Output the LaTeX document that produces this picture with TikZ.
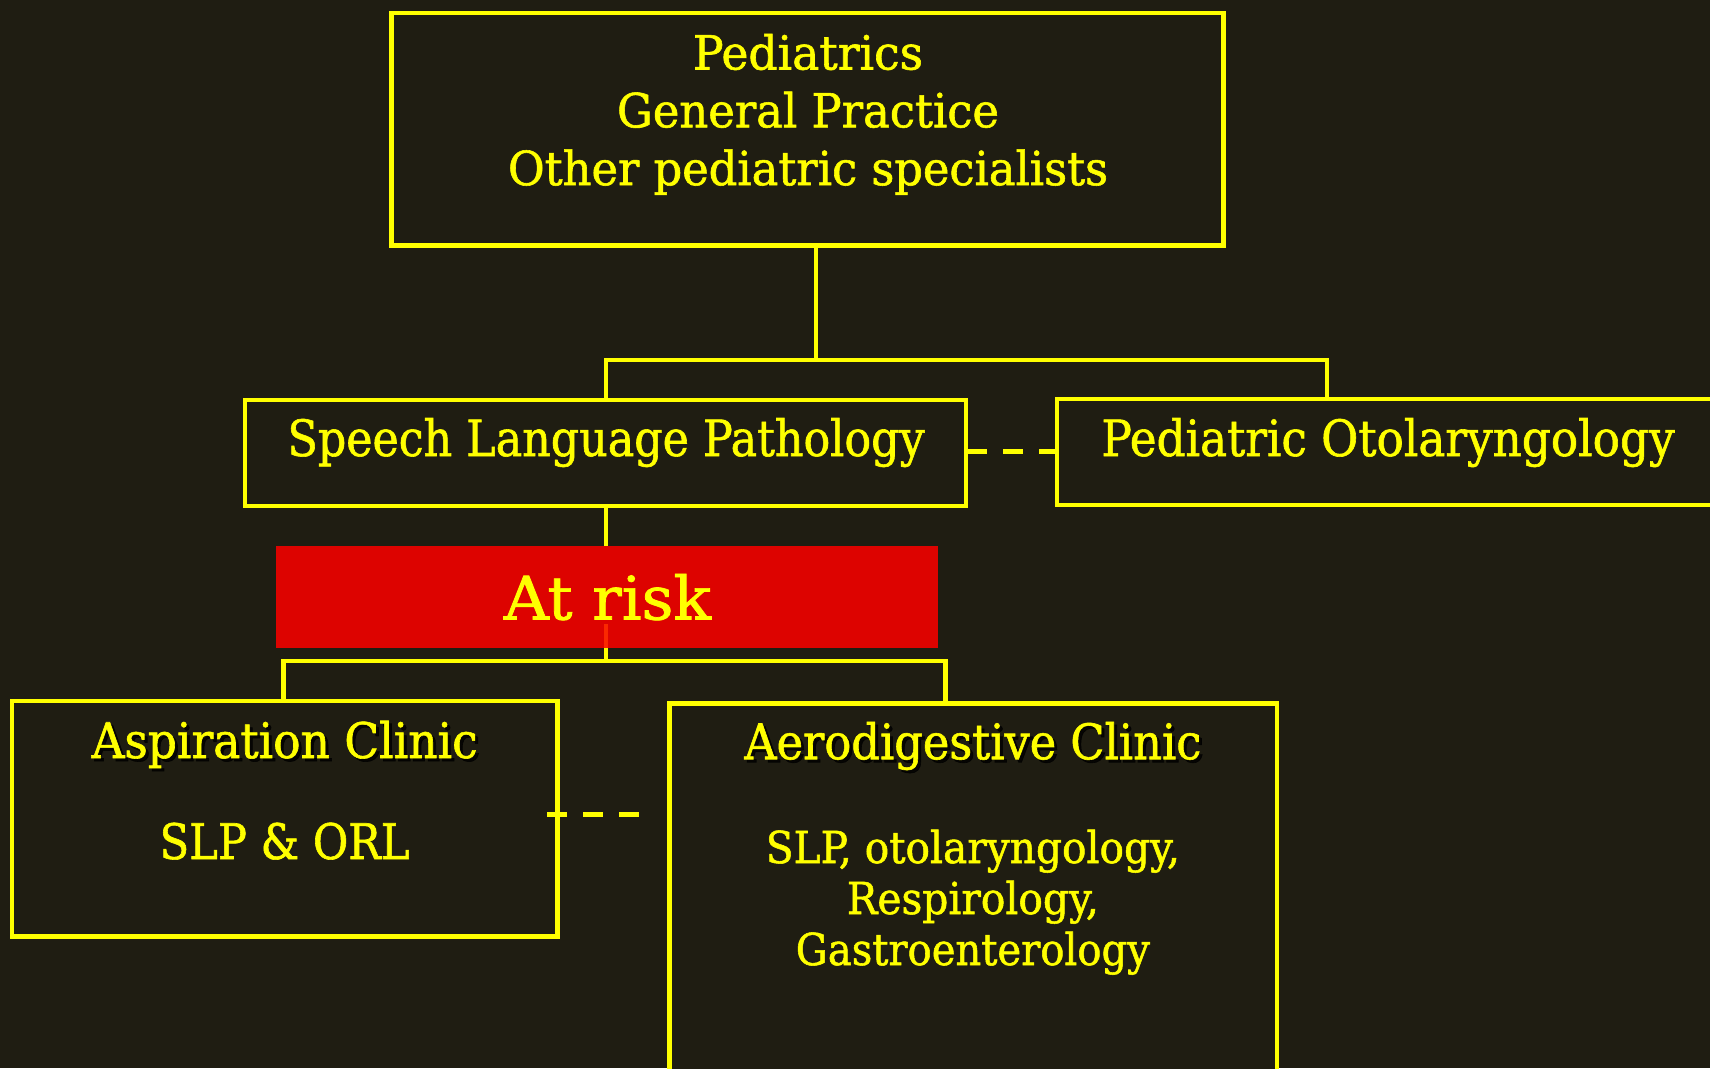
\documentclass[tikz,border=0pt]{standalone}
\usepackage{fontspec}
\usepackage{graphicx}
\setmainfont{DejaVu Serif Condensed}[FakeBold=1.2]
\definecolor{bg}{RGB}{31,29,18}
\definecolor{hl}{RGB}{255,255,0}
\definecolor{alarm}{RGB}{221,3,0}
\definecolor{glow}{RGB}{250,40,0}
% set a label at a given width, keeping its height
\newcommand\fitto[2]{\resizebox{#1}{\height}{#2}}
\begin{document}
\begin{tikzpicture}[x=1pt,y=-1pt,
  frame/.style={draw=hl, line width=4.8pt, fill=bg, inner sep=0pt},
  link/.style={draw=hl, line width=4.5pt, line join=miter},
  dlink/.style={draw=hl, line width=4.5pt, dash pattern=on 20pt off 16pt},
  lbl/.style={text=hl, inner sep=0pt, anchor=base},
  shade/.style={text=black, opacity=0.8, inner sep=0pt, anchor=base}]
\fill[bg] (0,0) rectangle (1710,1068);
\useasboundingbox (0,0) rectangle (1710,1068);
\clip (0,0) rectangle (1710,1068);

% junction points of the tree connectors
\coordinate (j1) at (815.8,360);
\coordinate (j2) at (1327,360);
\coordinate (j3) at (606,661);
\coordinate (j4) at (283.6,661);
\coordinate (j5) at (945.6,661);
\coordinate (j0) at (606,360);

% connectors (drawn first, boxes sit on top)
\draw[link] (815.8,245) -- (j1);
\draw[link] (606,402) -- (j0) -- (j2) -- (1327,401);
\draw[link] (606,506) -- (j3);
\draw[link] (283.6,703) -- (j4) -- (j5) -- (945.6,705.5);

% boxes
\node[frame, minimum width=832pt, minimum height=232.4pt] (top) at (807.5,129.2) {};
\node[frame, line width=4pt, minimum width=721pt, minimum height=106pt] (slp) at (605.9,453) {};
\node[frame, minimum width=683pt, minimum height=106pt] (oto) at (1398.4,452) {};
\node[frame, minimum width=545.3pt, minimum height=235.8pt] (asp) at (284.6,818.9) {};
\node[frame, minimum width=607.4pt, minimum height=396.5pt] (aero) at (973.3,901.7) {};
\node[fill=alarm, draw=none, minimum width=662pt, minimum height=101.4pt, inner sep=0pt] (risk) at (607,597) {};
\draw[line width=4pt, glow] (606,624) -- (risk.south -| 606,0);

% dashed links
\coordinate (d1) at (967,451.5);
\coordinate (d2) at (1056,451.5);
\draw[dlink] (d1) -- (d2);
\coordinate (d3) at (547,814.7);
\coordinate (d4) at (646,814.7);
\draw[dlink] (d3) -- (d4);

% texts
\node[lbl, font=\fontsize{47}{56}\selectfont] (t1) at (808,69.5) {\fitto{230pt}{Pediatrics}};
\node[lbl, font=\fontsize{47}{56}\selectfont] (t2) at (808,127.3) {\fitto{382pt}{General Practice}};
\node[lbl, font=\fontsize{47}{56}\selectfont] (t3) at (808,185.1) {\fitto{600pt}{Other pediatric specialists}};

\node[lbl, font=\fontsize{50}{60}\selectfont] (slpt) at (606,456) {\fitto{637pt}{Speech Language Pathology}};
\node[lbl, font=\fontsize{50}{60}\selectfont] (otot) at (1388,456) {\fitto{573pt}{Pediatric Otolaryngology}};

\node[lbl, font=\fontsize{60}{72}\selectfont] (riskt) at (607.5,619.5) {\fitto{207pt}{At risk}};

\node[shade, font=\fontsize{49}{58}\selectfont] at (287.6,761) {\fitto{386pt}{Aspiration Clinic}};
\node[lbl, font=\fontsize{49}{58}\selectfont] (aspt) at (284.6,758) {\fitto{386pt}{Aspiration Clinic}};
\node[lbl, font=\fontsize{49}{58}\selectfont] (aspb) at (284.6,859) {\fitto{250pt}{SLP \& ORL}};

\node[shade, font=\fontsize{49}{58}\selectfont] at (975.8,762.2) {\fitto{457pt}{Aerodigestive Clinic}};
\node[lbl, font=\fontsize{49}{58}\selectfont] (aerot) at (972.8,759.2) {\fitto{457pt}{Aerodigestive Clinic}};
\node[lbl, font=\fontsize{44}{52}\selectfont] (aerob1) at (972.8,863) {\fitto{414pt}{SLP, otolaryngology,}};
\node[lbl, font=\fontsize{44}{52}\selectfont] (aerob2) at (972.8,914) {\fitto{252pt}{Respirology,}};
\node[lbl, font=\fontsize{44}{52}\selectfont] (aerob3) at (972.8,965) {\fitto{354pt}{Gastroenterology}};
\end{tikzpicture}
\end{document}
